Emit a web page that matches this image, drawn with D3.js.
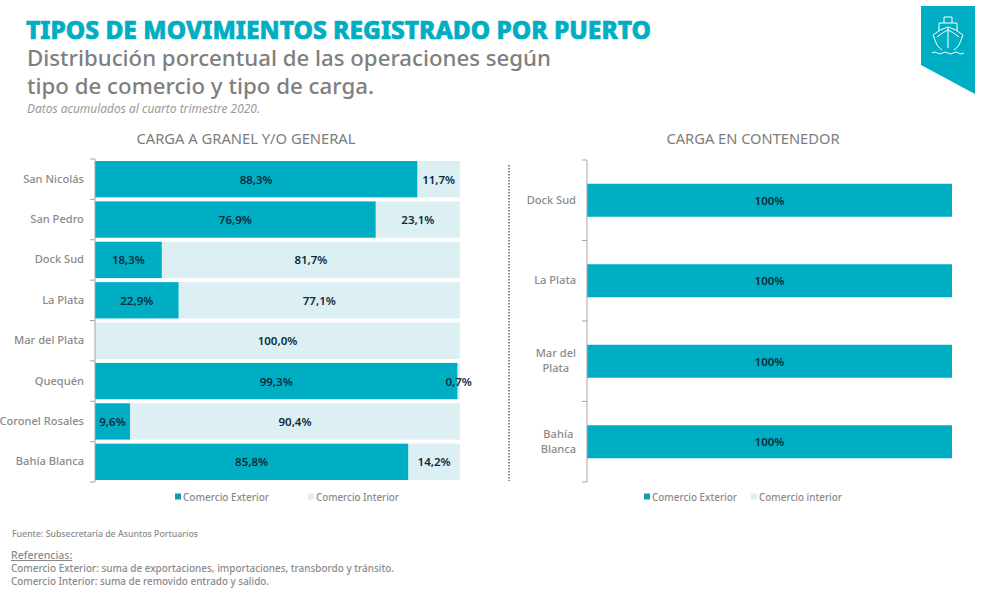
<!DOCTYPE html>
<html>
<head>
<meta charset="utf-8">
<script src="https://cdn.jsdelivr.net/npm/d3@7"></script>
<style>
  html, body { margin: 0; padding: 0; background: #fff; }
  svg { display: block; }
  text { font-family: "Noto Sans", sans-serif; }
</style>
</head>
<body>
<div id="wrapper"></div>
<script>
// Data
const granelPorts = ["San Nicolás", "San Pedro", "Dock Sud", "La Plata", "Mar del Plata", "Quequén", "Coronel Rosales", "Bahía Blanca"];
const granelExterior = [88.3, 76.9, 18.3, 22.9, 0, 99.3, 9.6, 85.8];
const granelInterior = [11.7, 23.1, 81.7, 77.1, 100, 0.7, 90.4, 14.2];
const contenedorPorts = [["Dock Sud"], ["La Plata"], ["Mar del", "Plata"], ["Bahía", "Blanca"]];
const contenedorExterior = [100, 100, 100, 100];
const legendGranel = ["Comercio Exterior", "Comercio Interior"];
const legendContenedor = ["Comercio Exterior", "Comercio interior"];
const notes = [
    "Comercio Exterior: suma de exportaciones, importaciones, transbordo y tránsito.",
    "Comercio Interior: suma de removido entrado y salido.",
];

const teal = "#00aec3";
const pale = "#dceff2";
const grey = "#8a8a8a";
const ink = "#0b2b3a";

const wrapper = d3.select("#wrapper")
    .append("svg")
    .attr("width", 981)
    .attr("height", 609);

// Header
wrapper.append("text").attr("x", 26).attr("y", 38.5)
    .attr("fill", teal).attr("stroke", teal).attr("stroke-width", 0.7)
    .attr("font-size", 24).attr("font-weight", 800)
    .attr("textLength", 625).attr("lengthAdjust", "spacingAndGlyphs")
    .text("TIPOS DE MOVIMIENTOS REGISTRADO POR PUERTO");
wrapper.append("text").attr("x", 27).attr("y", 66)
    .attr("fill", "#7f7f7f").attr("font-size", 22.5).attr("font-weight", 500)
    .attr("textLength", 524).attr("lengthAdjust", "spacingAndGlyphs")
    .text("Distribución porcentual de las operaciones según");
wrapper.append("text").attr("x", 27).attr("y", 94)
    .attr("fill", "#7f7f7f").attr("font-size", 22.5).attr("font-weight", 500)
    .attr("textLength", 347).attr("lengthAdjust", "spacingAndGlyphs")
    .text("tipo de comercio y tipo de carga.");
wrapper.append("text").attr("x", 27).attr("y", 113)
    .attr("fill", "#9a9a9a").attr("font-size", 12).attr("font-style", "italic")
    .attr("textLength", 233).attr("lengthAdjust", "spacingAndGlyphs")
    .text("Datos acumulados al cuarto trimestre 2020.");

// Badge with ship
const badge = wrapper.append("g");
badge.append("polygon")
    .attr("points", "921,6 975,6 975,94 921,65")
    .attr("fill", teal);
const ship = badge.append("g")
    .attr("fill", "none").attr("stroke", "#fff").attr("stroke-width", 1)
    .attr("transform", "translate(948,0)");
ship.append("path").attr("d", "M-15,35 L-11,45 Q-8,49 -6,50 M15,35 L11,45 Q8,49 6,50 M-15,35 Q-8,29 0,27 Q8,29 15,35");
ship.append("path").attr("d", "M0,27 V48 M-11,37 Q-5,32 0,30 Q5,32 11,37 M-9,31 V23 H9 V31 M-4,23 V17 H4 V23");
ship.append("path").attr("d", "M-16,53 q2.7,-2 5.3,0 t5.3,0 t5.3,0 t5.3,0 t5.3,0 t5.3,0");

// Panels
function drawPanel(config) {
    const xScale = d3.scaleLinear().domain([0, 100]).range(config.xRange);
    const yScale = d3.scaleBand()
        .domain(d3.range(config.labels.length))
        .range(config.yRange)
        .paddingInner(config.padding)
        .paddingOuter(config.padding / 2);
    const midY = i => yScale(i) + yScale.bandwidth() / 2;

    const bounds = wrapper.append("g");

    bounds.append("text")
        .attr("x", config.titleX).attr("y", 144)
        .attr("text-anchor", "middle")
        .attr("fill", "#7d7d7d").attr("font-size", 14)
        .attr("textLength", config.titleWidth).attr("lengthAdjust", "spacingAndGlyphs")
        .text(config.title);

    // Bars
    const drawBars = (values, starts, color) => {
        bounds.append("g").selectAll("rect").data(values).join("rect")
            .attr("x", (d, i) => xScale(starts[i]))
            .attr("y", (d, i) => yScale(i))
            .attr("width", d => xScale(d) - xScale(0))
            .attr("height", yScale.bandwidth())
            .attr("fill", color);
    };
    const zeros = config.exterior.map(() => 0);
    if (config.interior) drawBars(config.interior, config.exterior, pale);
    drawBars(config.exterior, zeros, teal);

    // Value labels
    const drawValues = (values, starts, format) => {
        bounds.append("g").selectAll("text").data(values).join("text")
            .attr("x", (d, i) => xScale(starts[i] + d / 2))
            .attr("y", (d, i) => midY(i) + 4.5)
            .attr("text-anchor", "middle")
            .attr("fill", ink).attr("font-size", 11.5).attr("font-weight", 600)
            .text(d => (d > 0 ? format(d) : ""));
    };
    const decimal = d => `${d.toFixed(1).replace(".", ",")}%`;
    const whole = d => `${d}%`;
    drawValues(config.exterior, zeros, config.interior ? decimal : whole);
    if (config.interior) drawValues(config.interior, config.exterior, decimal);

    // Y axis, ticks sit on the band edges
    const axisG = bounds.append("g")
        .attr("transform", `translate(${config.xRange[0]},0)`)
        .call(d3.axisLeft(yScale).tickSize(0).tickFormat(""));
    axisG.select(".domain").attr("stroke", "#a6a6a6").attr("d", `M0,${config.yRange[0]} V${config.yRange[1]}`);
    axisG.selectAll(".edge").data(d3.range(config.labels.length + 1)).join("line")
        .attr("class", "edge")
        .attr("x1", -5).attr("x2", 0)
        .attr("y1", i => config.yRange[0] + i * yScale.step())
        .attr("y2", i => config.yRange[0] + i * yScale.step())
        .attr("stroke", "#a6a6a6");

    // Category labels: block right aligned, wrapped lines centred in the block
    bounds.append("g").selectAll("text").data(config.labels).join("text")
        .attr("y", (d, i) => midY(i) + 3.5)
        .attr("text-anchor", "middle")
        .attr("fill", grey).attr("font-size", 11.1).attr("font-weight", 500)
        .each(function (d) {
            const lines = Array.isArray(d) ? d : [d];
            const label = d3.select(this);
            label.selectAll("tspan").data(lines).join("tspan")
                .attr("x", 0)
                .attr("dy", (l, j) => (j === 0 ? -(lines.length - 1) * 7.5 : 15))
                .text(l => l);
            const labelWidth = this.getBBox().width;
            label.selectAll("tspan").attr("x", config.labelRight - labelWidth / 2);
        });

    // Legend
    config.legend.forEach((label, i) => {
        const lx = config.legendX[i];
        bounds.append("rect")
            .attr("x", lx).attr("y", 493.5).attr("width", 6).attr("height", 6)
            .attr("fill", i === 0 ? "#0f9fb0" : pale);
        bounds.append("text")
            .attr("x", lx + 8).attr("y", 501)
            .attr("fill", grey).attr("font-size", 10.5).attr("font-weight", 500)
            .attr("textLength", config.legendWidth[i]).attr("lengthAdjust", "spacingAndGlyphs")
            .text(label);
    });
}

drawPanel({
    title: "CARGA A GRANEL Y/O GENERAL",
    titleX: 246, titleWidth: 219,
    labels: granelPorts,
    exterior: granelExterior,
    interior: granelInterior,
    xRange: [95, 460],
    yRange: [159, 482],
    padding: 0.1,
    labelRight: 84,
    legend: legendGranel,
    legendX: [175, 308],
    legendWidth: [86, 83],
});

drawPanel({
    title: "CARGA EN CONTENEDOR",
    titleX: 753, titleWidth: 173,
    labels: contenedorPorts,
    exterior: contenedorExterior,
    interior: null,
    xRange: [587, 952],
    yRange: [160, 482],
    padding: 0.59,
    labelRight: 576,
    legend: legendContenedor,
    legendX: [644, 751],
    legendWidth: [85, 83],
});

// Divider between panels
wrapper.append("line")
    .attr("x1", 509).attr("x2", 509).attr("y1", 165).attr("y2", 481)
    .attr("stroke", "#8c8c8c").attr("stroke-width", 2).attr("stroke-dasharray", "1.5 1.5");

// Footer
wrapper.append("text").attr("x", 12).attr("y", 537)
    .attr("fill", grey).attr("font-size", 8.5).attr("font-weight", 500)
    .attr("textLength", 186).attr("lengthAdjust", "spacingAndGlyphs")
    .text("Fuente: Subsecretaría de Asuntos Portuarios");
wrapper.append("text").attr("x", 11).attr("y", 559)
    .attr("fill", grey).attr("font-size", 10.5).attr("font-weight", 500)
    .attr("text-decoration", "underline")
    .text("Referencias:");
wrapper.selectAll(".note").data(notes).join("text")
    .attr("class", "note")
    .attr("x", 11)
    .attr("y", (d, i) => 572 + i * 12.5)
    .attr("fill", grey).attr("font-size", 10.5).attr("font-weight", 500)
    .attr("textLength", (d, i) => [383, 258][i]).attr("lengthAdjust", "spacingAndGlyphs")
    .text(d => d);
</script>
</body>
</html>
